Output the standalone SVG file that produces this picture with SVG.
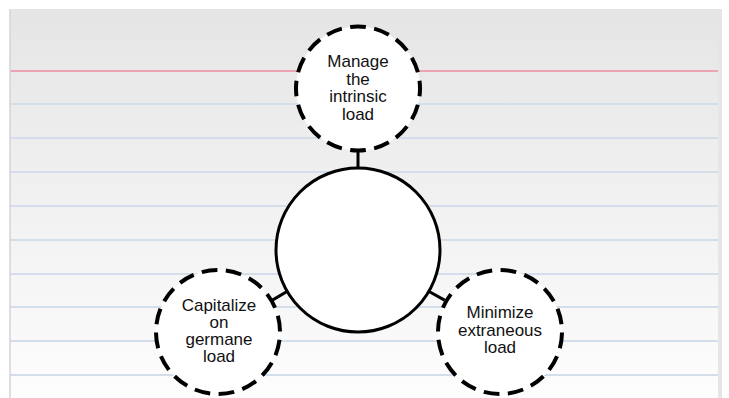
<svg xmlns="http://www.w3.org/2000/svg" width="729" height="398" viewBox="0 0 729 398">
<defs>
<linearGradient id="bg" x1="0" y1="0" x2="0" y2="1">
<stop offset="0" stop-color="#e5e5e5"/>
<stop offset="0.45" stop-color="#f0f0f0"/>
<stop offset="1" stop-color="#fdfdfd"/>
</linearGradient>
<style>
.rule{stroke:#d3deea;stroke-width:2}
.red{stroke:#eea3b3;stroke-width:2.2}
.dash{fill:#fff;stroke:#000;stroke-width:4;stroke-dasharray:0.65 0.35}
.hub{fill:#fff;stroke:#000;stroke-width:3}
.conn{stroke:#000;stroke-width:3;fill:none}
text{font-family:"Liberation Sans",Arial,sans-serif;font-size:17px;fill:#111;text-anchor:middle}
</style>
</defs>
<rect x="0" y="0" width="729" height="398" fill="#fff"/>
<rect x="10" y="9" width="710" height="389" fill="url(#bg)"/>
<g id="rules">
<line class="red" x1="10" y1="71" x2="720" y2="71"/>
<line class="rule" x1="10" y1="104" x2="720" y2="104"/>
<line class="rule" x1="10" y1="138" x2="720" y2="138"/>
<line class="rule" x1="10" y1="172" x2="720" y2="172"/>
<line class="rule" x1="10" y1="206" x2="720" y2="206"/>
<line class="rule" x1="10" y1="240" x2="720" y2="240"/>
<line class="rule" x1="10" y1="274" x2="720" y2="274"/>
<line class="rule" x1="10" y1="307" x2="720" y2="307"/>
<line class="rule" x1="10" y1="341" x2="720" y2="341"/>
<line class="rule" x1="10" y1="375" x2="720" y2="375"/>
</g>
<line x1="10" y1="9" x2="10" y2="398" stroke="#d4d4d4" stroke-width="1.5"/>
<rect x="718" y="9" width="4" height="389" fill="#e6e6e6"/>
<g id="connectors">
<line class="conn" x1="358" y1="151" x2="358" y2="169"/>
<line class="conn" x1="287" y1="291.5" x2="272.4" y2="300.1"/>
<line class="conn" x1="429" y1="291.5" x2="444.6" y2="300.1"/>
</g>
<g id="hub">
<circle class="hub" cx="358" cy="250" r="82"/>
</g>
<g id="intrinsic">
<circle class="dash" cx="358" cy="88.5" r="62" pathLength="16" stroke-dashoffset="0.325"/>
<text x="358" y="67">Manage</text>
<text x="358" y="84.5">the</text>
<text x="358" y="102">intrinsic</text>
<text x="358" y="119.5">load</text>
</g>
<g id="germane">
<circle class="dash" cx="218" cy="332" r="62" pathLength="16" stroke-dashoffset="-0.325"/>
<text x="219" y="311">Capitalize</text>
<text x="219" y="328">on</text>
<text x="219" y="345">germane</text>
<text x="219" y="362">load</text>
</g>
<g id="extraneous">
<circle class="dash" cx="500" cy="332" r="62" pathLength="16" stroke-dashoffset="0.975"/>
<text x="500" y="318">Minimize</text>
<text x="500" y="335.5">extraneous</text>
<text x="500" y="353">load</text>
</g>
</svg>
